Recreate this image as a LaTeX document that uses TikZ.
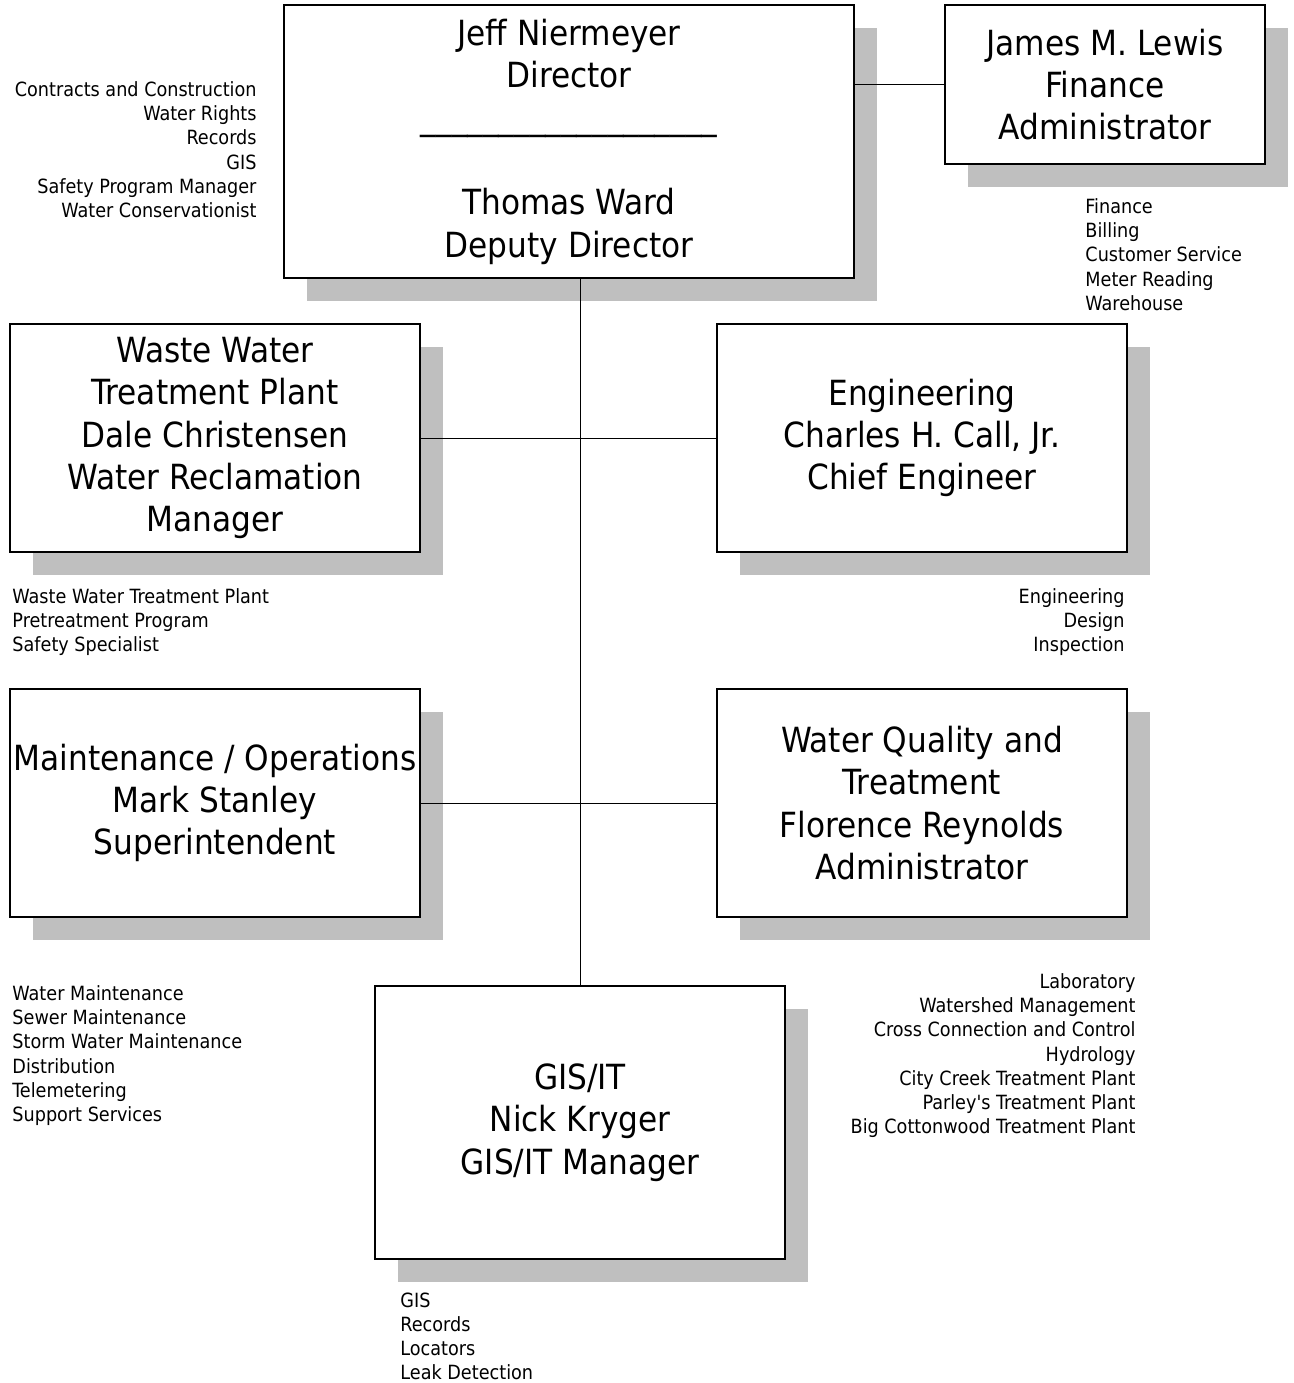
\documentclass[tikz,border=0pt]{standalone}
\usepackage{fontspec}
\setmainfont{DejaVu Sans Condensed}
\usetikzlibrary{shadows}

\begin{document}
\begin{tikzpicture}[x=0.75pt, y=-0.75pt, line width=0.7pt,
  box node/.style={rectangle,draw,line width=1.2pt,fill=white,align=center,inner sep=0pt,
    font=\fontsize{26}{31.8}\selectfont,
    drop shadow={shadow xshift=17pt,shadow yshift=-17pt,fill=black!25,opacity=1}},
  list node/.style={inner sep=0pt,font=\fontsize{14.7}{18.2}\selectfont}]
\useasboundingbox (0,0) rectangle (1293,1383);
\begin{scope}[every node/.style={box node}]
\node [minimum width=427.5pt,minimum height=204.75pt](dir) at (569,141.5) {Jeff Niermeyer\\Director\\\_\_\_\_\_\_\_\_\_\_\_\_\_\_\_\_\_\_\_\\ \\Thomas Ward\\Deputy Director};
\node [minimum width=240pt,minimum height=119.25pt](fin) at (1105,84.5) {James M. Lewis\\Finance\\Administrator};
\node [minimum width=307.5pt,minimum height=171pt](wwtp) at (215,438) {Waste Water\\Treatment Plant\\Dale Christensen\\Water Reclamation\\Manager};
\node [minimum width=307.5pt,minimum height=171pt](eng) at (922,438) {Engineering\\Charles H. Call, Jr.\\Chief Engineer};
\node [minimum width=307.5pt,minimum height=171pt](maint) at (215,803) {Maintenance / Operations\\Mark Stanley\\Superintendent};
\node [minimum width=307.5pt,minimum height=171pt](wq) at (922,803) {Water Quality and\\Treatment\\Florence Reynolds\\Administrator};
\node [minimum width=307.5pt,minimum height=204.75pt](gis) at (580,1122.5) {GIS/IT\\Nick Kryger\\GIS/IT Manager};
\end{scope}
\path 
    (dir.south -| gis.north) edge (gis.north)
    (dir.east |- fin.west) edge (fin.west)
    (wwtp.east) edge (eng.west)
    (maint.east) edge (wq.west)
         ;
\begin{scope}[every node/.style={list node}]
\node [anchor=north east,align=right](dirlist) at (257,81) {Contracts and Construction\\Water Rights\\Records\\GIS\\Safety Program Manager\\Water Conservationist};
\node [anchor=north west,align=left](finlist) at (1085,198) {Finance\\Billing\\Customer Service\\Meter Reading\\Warehouse};
\node [anchor=north west,align=left](wwtplist) at (12,588) {Waste Water Treatment Plant\\Pretreatment Program\\Safety Specialist};
\node [anchor=north east,align=right](englist) at (1125,588) {Engineering\\Design\\Inspection};
\node [anchor=north west,align=left](maintlist) at (12,985) {Water Maintenance\\Sewer Maintenance\\Storm Water Maintenance\\Distribution\\Telemetering\\Support Services};
\node [anchor=north east,align=right](wqlist) at (1136,973) {Laboratory\\Watershed Management\\Cross Connection and Control\\Hydrology\\City Creek Treatment Plant\\Parley\textquotesingle s Treatment Plant\\Big Cottonwood Treatment Plant};
\node [anchor=north west,align=left](gislist) at (400,1292) {GIS\\Records\\Locators\\Leak Detection};
\end{scope}
\end{tikzpicture}
\end{document}
